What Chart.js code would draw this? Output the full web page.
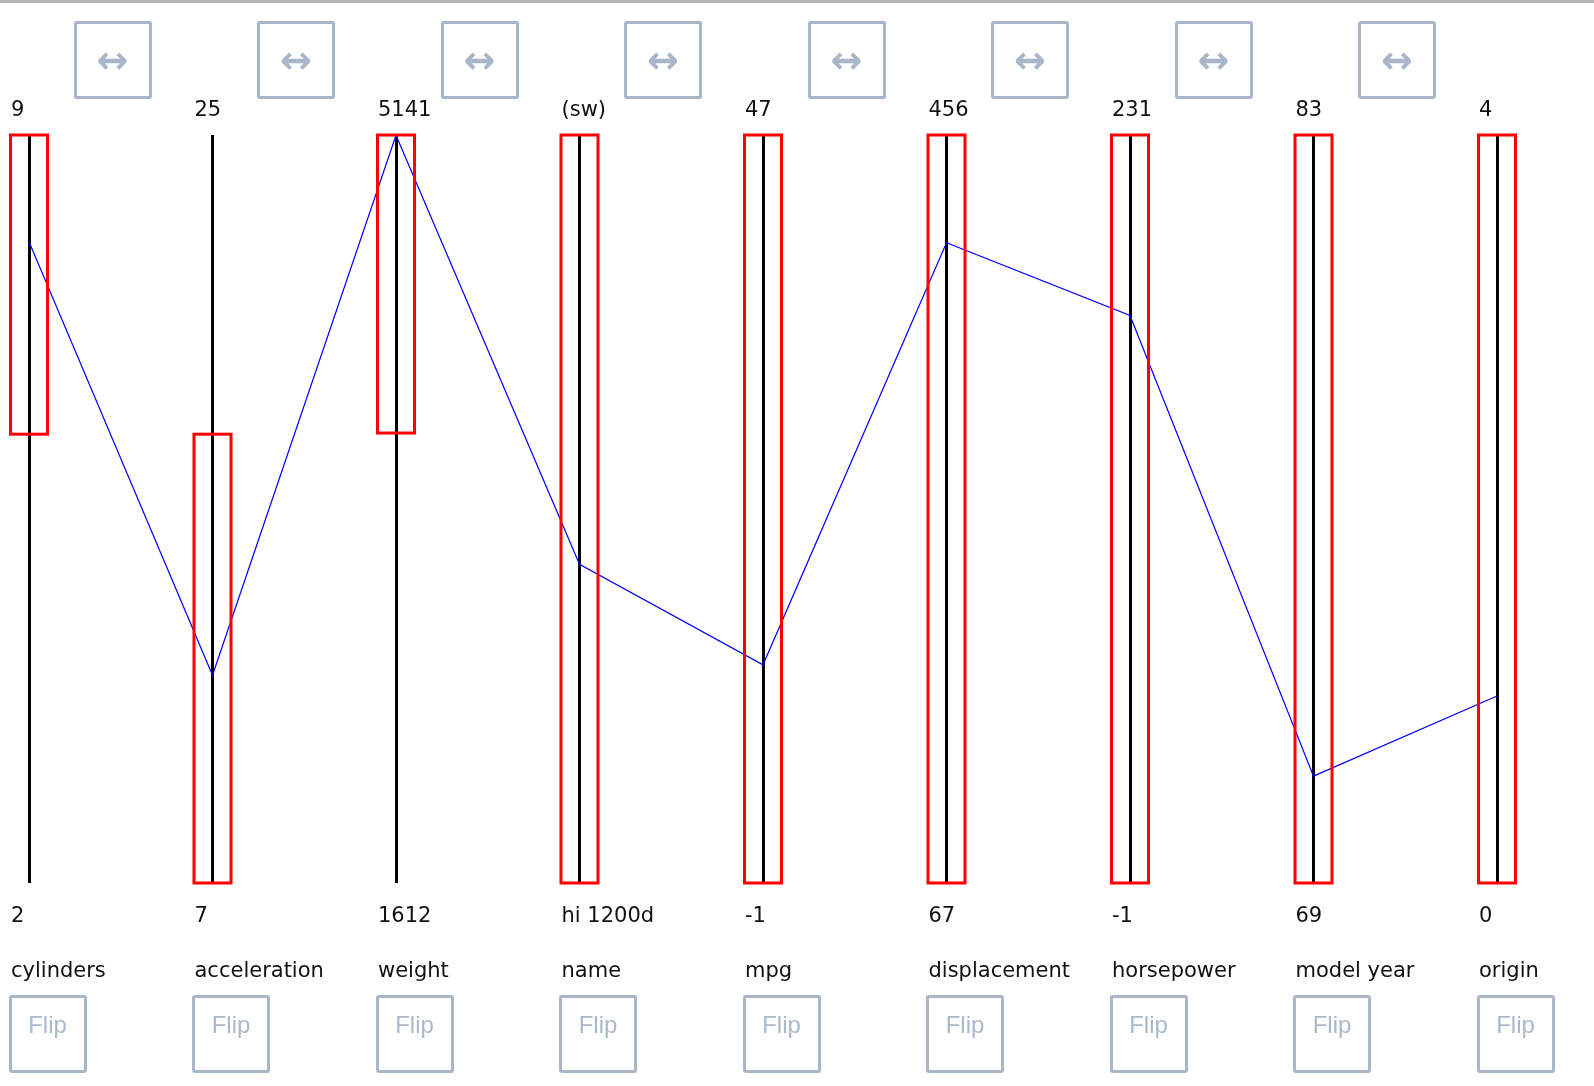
<!DOCTYPE html>
<html><head><meta charset="utf-8">
<script src="https://cdn.jsdelivr.net/npm/chart.js@4.4.0/dist/chart.umd.min.js"></script>
<style>
html,body{margin:0;padding:0;background:#fff;}
#wrap{position:relative;width:1594px;height:1086px;overflow:hidden;background:#fff;}
#topline{position:absolute;left:0;top:0;width:1594px;height:3px;background:#b3b3b3;}
canvas{position:absolute;left:0;top:0;}
.btn{position:absolute;box-sizing:border-box;width:78px;height:78px;border:3px solid #a8b6c8;border-radius:3px;background:transparent;color:#a8b6c8;text-align:center;}
.swap{display:flex;align-items:center;justify-content:center;font:bold 38px "DejaVu Sans";line-height:1;}
.flip span{position:absolute;left:0;right:0;top:15px;font:24px "Liberation Sans";line-height:24px;color:#a9b9cc;}
</style></head>
<body><div id="wrap"><canvas id="c" width="1594" height="1086"></canvas><div id="topline"></div></div>
<script>
// ---- data ----
const dimensions = ['cylinders','acceleration','weight','name','mpg','displacement','horsepower','model year','origin'];
const topTickLabels = ['9','25','5141','(sw)','47','456','231','83','4'];
const bottomTickLabels = ['2','7','1612','hi 1200d','-1','67','-1','69','0'];
const axisMax = [9, 25, 5141, 1, 47, 456, 231, 83, 4];
const axisMin = [2, 7, 1612, 0, -1, 67, -1, 69, 0];
const carName = 'pontiac safari (sw)';
const carValues = [8, 12, 5140, 0.426, 13, 400, 175, 71, 1];
const brushHigh = [9, 17.8, 5141, 1, 47, 456, 231, 83, 4];
const brushLow = [6.2, 7, 3735, 0, -1, 67, -1, 69, 0];

function norm(v, i){ return (v - axisMin[i]) / (axisMax[i] - axisMin[i]); }

const pcPlugin = {
  id: 'pc',
  afterDatasetsDraw(chart){
    const {ctx, scales:{x, y}} = chart;
    ctx.save();
    ctx.strokeStyle = '#ff0000';
    ctx.lineWidth = 3;
    dimensions.forEach((d, i) => {
      const px = x.getPixelForValue(i);
      const t = y.getPixelForValue(norm(brushHigh[i], i));
      const b = y.getPixelForValue(norm(brushLow[i], i));
      ctx.strokeRect(px - 18.5, t, 37, b - t);
    });
    ctx.restore();
  },
  afterDraw(chart){
    const {ctx, scales:{x, y}} = chart;
    ctx.save();
    ctx.font = '21px "DejaVu Sans"';
    ctx.fillStyle = '#111';
    ctx.textAlign = 'left';
    ctx.textBaseline = 'alphabetic';
    dimensions.forEach((d, i) => {
      const lx = x.getPixelForValue(i) - 18;
      ctx.fillText(topTickLabels[i], lx, y.top - 19);
      ctx.fillText(bottomTickLabels[i], lx, y.bottom + 39);
      ctx.fillText(d, lx, y.bottom + 94);
    });
    ctx.restore();
  }
};

const chart = new Chart(document.getElementById('c'), {
  type: 'line',
  data: {
    labels: dimensions,
    datasets: [{
      label: carName,
      data: carValues.map((v, i) => norm(v, i)),
      borderColor: '#0000ff',
      borderWidth: 1.2,
      pointRadius: 0,
      tension: 0,
      fill: false
    }]
  },
  options: {
    responsive: false,
    animation: false,
    events: [],
    layout: {padding: {left: 29, right: 97, top: 135, bottom: 203}},
    plugins: {legend: {display: false}, tooltip: {enabled: false}},
    scales: {
      x: {type: 'category', offset: false, border: {display: false},
          grid: {color: '#000', lineWidth: 3, drawTicks: false},
          ticks: {display: false}},
      y: {display: false, min: 0, max: 1}
    }
  },
  plugins: [pcPlugin]
});

// buttons positioned from the x scale
(function(){
  const wrap = document.getElementById('wrap');
  const xs = chart.scales.x, ys = chart.scales.y;
  dimensions.forEach((d, i) => {
    const px = xs.getPixelForValue(i);
    if (i < dimensions.length - 1) {
      const s = document.createElement('div');
      s.className = 'btn swap';
      s.style.left = (px + 44.5) + 'px';
      s.style.top = (ys.top - 114.5) + 'px';
      s.textContent = '\u2194';
      wrap.appendChild(s);
    }
    const f = document.createElement('div');
    f.className = 'btn flip';
    f.style.left = (px - 20.5) + 'px';
    f.style.top = (ys.bottom + 112) + 'px';
    const sp = document.createElement('span');
    sp.textContent = 'Flip';
    f.appendChild(sp);
    wrap.appendChild(f);
  });
})();
</script>
</body></html>
